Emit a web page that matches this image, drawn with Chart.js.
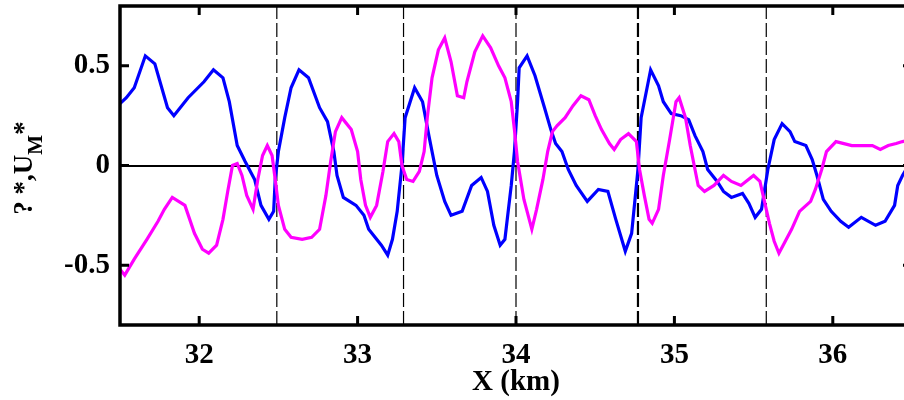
<!DOCTYPE html>
<html lang="en">
<head>
    <meta charset="UTF-8">
    <title>Perfiles a lo largo de X</title>
    <script src="https://cdn.jsdelivr.net/npm/chart.js"></script>
    <style>
        html, body {
            margin: 0;
            padding: 0;
            background: #ffffff;
            overflow: hidden;
        }

        .chart-box {
            width: 920px;
            height: 400px;
        }
    </style>
</head>
<body>
    <div class="chart-box">
        <canvas id="perfilChart" width="920" height="400"></canvas>
    </div>

    <script>
        // Datos
        const xTicks = [32, 33, 34, 35, 36];
        const yTicks = [-0.5, 0, 0.5];
        const xRange = [31.5, 36.5];
        const yRange = [-0.8, 0.8];
        const sectionX = [32.49, 33.29, 34.00, 34.77, 35.58];

        const blueX = [31.50, 31.54, 31.59, 31.66, 31.72, 31.80, 31.84, 31.93, 32.03, 32.09,
            32.15, 32.19, 32.24, 32.29, 32.35, 32.39, 32.44, 32.47, 32.48, 32.50,
            32.54, 32.58, 32.63, 32.69, 32.76, 32.81, 32.85, 32.87, 32.91, 32.99,
            33.04, 33.07, 33.15, 33.19, 33.22, 33.25, 33.28, 33.30, 33.36, 33.41,
            33.45, 33.48, 33.50, 33.55, 33.59, 33.66, 33.72, 33.78, 33.82, 33.86,
            33.90, 33.93, 33.97, 33.99, 34.01, 34.02, 34.07, 34.12, 34.18, 34.22,
            34.25, 34.29, 34.33, 34.38, 34.45, 34.52, 34.58, 34.63, 34.69, 34.73,
            34.77, 34.79, 34.85, 34.90, 34.93, 34.98, 35.04, 35.09, 35.13, 35.18,
            35.21, 35.27, 35.31, 35.36, 35.43, 35.47, 35.51, 35.55, 35.59, 35.63,
            35.68, 35.73, 35.76, 35.83, 35.87, 35.90, 35.94, 35.99, 36.05, 36.10,
            36.18, 36.27, 36.33, 36.39, 36.41, 36.44, 36.50];
        const blueY = [0.31, 0.34, 0.39, 0.55, 0.51, 0.29, 0.25, 0.34, 0.42, 0.48,
            0.44, 0.32, 0.10, 0.02, -0.07, -0.20, -0.27, -0.23, -0.07, 0.07,
            0.24, 0.39, 0.48, 0.44, 0.29, 0.22, 0.07, -0.05, -0.16, -0.20,
            -0.25, -0.32, -0.40, -0.45, -0.37, -0.23, 0.00, 0.24, 0.39, 0.32,
            0.15, 0.03, -0.05, -0.18, -0.25, -0.23, -0.10, -0.06, -0.13, -0.30,
            -0.40, -0.37, -0.10, 0.07, 0.32, 0.49, 0.55, 0.45, 0.29, 0.18,
            0.11, 0.07, -0.02, -0.10, -0.18, -0.12, -0.13, -0.27, -0.43, -0.34,
            -0.02, 0.24, 0.48, 0.40, 0.32, 0.26, 0.25, 0.23, 0.15, 0.07,
            -0.02, -0.08, -0.13, -0.16, -0.14, -0.19, -0.26, -0.22, -0.02, 0.13,
            0.21, 0.17, 0.12, 0.10, 0.03, -0.05, -0.17, -0.23, -0.28, -0.31,
            -0.26, -0.30, -0.28, -0.20, -0.10, -0.05, 0.03];

        const magentaX = [31.50, 31.53, 31.59, 31.67, 31.74, 31.78, 31.83, 31.91, 31.97, 32.02,
            32.06, 32.11, 32.15, 32.18, 32.21, 32.24, 32.27, 32.30, 32.34, 32.37,
            32.40, 32.43, 32.46, 32.48, 32.50, 32.54, 32.58, 32.65, 32.71, 32.76,
            32.80, 32.83, 32.86, 32.90, 32.96, 33.00, 33.02, 33.05, 33.08, 33.12,
            33.16, 33.19, 33.23, 33.26, 33.28, 33.31, 33.35, 33.39, 33.42, 33.44,
            33.47, 33.51, 33.55, 33.59, 33.63, 33.67, 33.69, 33.74, 33.79, 33.84,
            33.89, 33.93, 33.97, 33.99, 34.01, 34.05, 34.07, 34.10, 34.13, 34.17,
            34.20, 34.23, 34.26, 34.31, 34.36, 34.41, 34.46, 34.50, 34.54, 34.59,
            34.62, 34.66, 34.71, 34.76, 34.78, 34.81, 34.84, 34.86, 34.90, 34.93,
            34.97, 35.01, 35.03, 35.07, 35.10, 35.13, 35.15, 35.19, 35.25, 35.31,
            35.36, 35.42, 35.50, 35.54, 35.56, 35.60, 35.63, 35.66, 35.70, 35.74,
            35.79, 35.86, 35.89, 35.93, 35.96, 36.02, 36.12, 36.25, 36.30, 36.35,
            36.40, 36.44, 36.50];
        const magentaY = [-0.52, -0.55, -0.47, -0.37, -0.28, -0.22, -0.16, -0.20, -0.34, -0.42,
            -0.44, -0.40, -0.27, -0.13, 0.00, 0.01, -0.05, -0.15, -0.22, -0.07,
            0.05, 0.10, 0.05, -0.07, -0.20, -0.32, -0.36, -0.37, -0.36, -0.32,
            -0.15, 0.02, 0.17, 0.24, 0.18, 0.07, -0.07, -0.20, -0.26, -0.20,
            -0.03, 0.12, 0.16, 0.12, 0.00, -0.07, -0.08, -0.03, 0.07, 0.24,
            0.44, 0.58, 0.64, 0.52, 0.35, 0.34, 0.42, 0.57, 0.65, 0.59,
            0.50, 0.44, 0.32, 0.18, 0.02, -0.17, -0.23, -0.32, -0.22, -0.07,
            0.07, 0.17, 0.20, 0.24, 0.30, 0.35, 0.33, 0.25, 0.18, 0.11,
            0.08, 0.13, 0.16, 0.12, -0.02, -0.15, -0.27, -0.29, -0.22, -0.05,
            0.13, 0.32, 0.34, 0.24, 0.10, -0.02, -0.10, -0.13, -0.10, -0.05,
            -0.08, -0.10, -0.05, -0.08, -0.15, -0.29, -0.38, -0.44, -0.38, -0.32,
            -0.23, -0.18, -0.12, -0.02, 0.07, 0.12, 0.10, 0.10, 0.08, 0.10,
            0.11, 0.12, 0.13];

        const toPoints = (xs, ys) => xs.map((x, i) => ({ x: x, y: ys[i] }));

        const serif = "'Liberation Serif', 'Times New Roman', serif";

        // marco grueso, marcas hacia dentro y titulo del eje Y
        const marcoPlugin = {
            id: 'marco',
            afterDraw(chart) {
                const ctx = chart.ctx;
                const a = chart.chartArea;
                const sx = chart.scales.x;
                const sy = chart.scales.y;
                ctx.save();
                ctx.strokeStyle = '#000';
                ctx.lineWidth = 3.5;
                ctx.strokeRect(a.left, a.top, a.right - a.left, a.bottom - a.top);

                ctx.lineWidth = 3;
                ctx.beginPath();
                xTicks.forEach(v => {
                    const px = sx.getPixelForValue(v);
                    ctx.moveTo(px, a.bottom);
                    ctx.lineTo(px, a.bottom - 9);
                    ctx.moveTo(px, a.top);
                    ctx.lineTo(px, a.top + 9);
                });
                yTicks.forEach(v => {
                    const py = sy.getPixelForValue(v);
                    ctx.moveTo(a.left, py);
                    ctx.lineTo(a.left + 9, py);
                    ctx.moveTo(a.right, py);
                    ctx.lineTo(a.right - 9, py);
                });
                ctx.stroke();

                // "? *,U" con M en subindice y * final
                const big = 'bold 27px ' + serif;
                const small = 'bold 21px ' + serif;
                ctx.font = big;
                const w1 = ctx.measureText('? *,U').width;
                const w3 = ctx.measureText('*').width;
                ctx.font = small;
                const w2 = ctx.measureText('M').width;
                const total = w1 + w2 + w3;

                ctx.translate(32, 168);
                ctx.rotate(-Math.PI / 2);
                ctx.fillStyle = '#000';
                ctx.textBaseline = 'alphabetic';
                ctx.textAlign = 'left';
                let x0 = -total / 2;
                ctx.font = big;
                ctx.fillText('? *,U', x0, 0);
                x0 += w1;
                ctx.font = small;
                ctx.fillText('M', x0, 10);
                x0 += w2;
                ctx.font = big;
                ctx.fillText('*', x0, 0);
                ctx.restore();
            }
        };

        const sectionSets = sectionX.map((v, i) => ({
            label: 'sec' + i,
            data: [{ x: v, y: yRange[0] }, { x: v, y: yRange[1] }],
            showLine: true,
            borderColor: '#000',
            borderWidth: i === 3 ? 2.2 : 1.2,
            borderDash: [14, 4],
            pointRadius: 0,
            order: 3
        }));

        const ctx = document.getElementById('perfilChart').getContext('2d');

        new Chart(ctx, {
            type: 'scatter',
            data: {
                datasets: [
                    {
                        label: 'U*',
                        data: toPoints(blueX, blueY),
                        showLine: true,
                        borderColor: '#0000ff',
                        borderWidth: 3.2,
                        pointRadius: 0,
                        tension: 0,
                        order: 2
                    },
                    {
                        label: 'UM*',
                        data: toPoints(magentaX, magentaY),
                        showLine: true,
                        borderColor: '#ff00ff',
                        borderWidth: 3.2,
                        pointRadius: 0,
                        tension: 0,
                        order: 1
                    },
                    ...sectionSets
                ]
            },
            options: {
                responsive: false,
                animation: false,
                devicePixelRatio: 1,
                layout: {
                    padding: { left: 0, top: 6, right: 8, bottom: 0 }
                },
                plugins: {
                    legend: { display: false },
                    tooltip: { enabled: false }
                },
                scales: {
                    x: {
                        type: 'linear',
                        min: xRange[0],
                        max: xRange[1],
                        afterBuildTicks: s => { s.ticks = xTicks.map(v => ({ value: v })); },
                        afterFit: s => {
                            s.height = 75;
                            s.paddingLeft = 0;
                            s.paddingRight = 0;
                        },
                        grid: { display: false },
                        border: { display: false },
                        ticks: {
                            color: '#000',
                            padding: 5,
                            maxRotation: 0,
                            font: { family: serif, size: 29, weight: 'bold' }
                        },
                        title: {
                            display: true,
                            text: 'X (km)',
                            color: '#000',
                            padding: { top: 0, bottom: 0 },
                            font: { family: serif, size: 29, weight: 'bold' }
                        }
                    },
                    y: {
                        type: 'linear',
                        min: yRange[0],
                        max: yRange[1],
                        afterBuildTicks: s => { s.ticks = yTicks.map(v => ({ value: v })); },
                        afterFit: s => {
                            s.width = 120;
                            s.paddingTop = 0;
                            s.paddingBottom = 0;
                        },
                        grid: {
                            drawTicks: false,
                            lineWidth: 2,
                            color: c => (c.tick && c.tick.value === 0) ? '#000' : 'rgba(0,0,0,0)'
                        },
                        border: { display: false },
                        ticks: {
                            color: '#000',
                            padding: 10,
                            callback: v => String(v),
                            font: { family: serif, size: 29, weight: 'bold' }
                        }
                    }
                }
            },
            plugins: [marcoPlugin]
        });
    </script>
</body>
</html>
